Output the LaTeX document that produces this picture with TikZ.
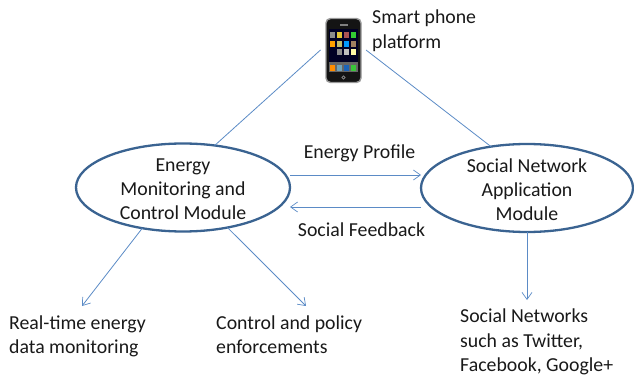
\documentclass[tikz,border=0pt]{standalone}
\usepackage{fontspec}
\setmainfont{Carlito}
\usetikzlibrary{arrows.meta,shapes.geometric}
\definecolor{ringc}{HTML}{3A6391}
\definecolor{linec}{HTML}{5B8BC6}
\tikzset{
 x=1pt,y=-1pt,
 ring/.style={draw=ringc,line width=2.3pt,ellipse,inner sep=0pt,outer sep=0pt,fill=white},
 lab/.style={font=\fontsize{19.8}{24.4}\selectfont,align=left,anchor=north west,inner sep=0pt,text=black!90},
 midlab/.style={font=\fontsize{19.8}{24}\selectfont,align=center,inner sep=0pt,text=black!90},
 conn/.style={draw=linec,line width=0.8pt},
 arr/.style={conn,-{Straight Barb[length=7pt,width=10pt,line width=0.7pt]}},
}
\begin{document}
\begin{tikzpicture}
\useasboundingbox (0,0) rectangle (634,379);
% phone
\node[draw=black!40,line width=1.4pt,fill=black!92,rounded corners=4.5pt,minimum width=35pt,minimum height=64pt,inner sep=0pt] (phone) at (343.5,50.5) {};
\fill[black!30!blue!20!black] (329,29) rectangle (358,62);
\fill[black!60] (329,62) rectangle (358,72);
\foreach \x/\y/\c in {332.7/35/black!45,339.7/35/yellow!55!brown,346.7/35/red!35!gray,353.7/35/green!60!gray,
 332.7/44/orange!75!yellow,339.7/44/yellow!45!gray,346.7/44/blue!40!cyan,353.7/44/brown!50!gray,
 339.7/52/black!45,346.7/52/black!25,353.7/52/yellow!35!white,
 332.7/68/orange!90!yellow,339.7/68/cyan!40!gray,346.7/68/cyan!40!blue,353.7/68/green!55!gray}
 \fill[\c] (\x-2.6,\y-2.6) rectangle (\x+2.6,\y+2.6);
\fill[black!50] (339.5,24.5) rectangle (347.5,25.7);
\draw[black!45,line width=0.7pt] (343.5,77.5) circle (1.7pt);
% free ends and levels
\coordinate (pl) at (320.5,50);
\coordinate (pr) at (366,50);
\coordinate (a1) at (82,306);
\coordinate (a2) at (306,306);
\coordinate (a3) at (527,300);
\coordinate (y1) at (0,175);
\coordinate (y2) at (0,207);
% rings
\node[ring,minimum width=214pt,minimum height=88pt] (em) at (183,187.5) {};
\node[ring,minimum width=212pt,minimum height=88pt] (sn) at (527,188) {};
% connectors
\draw[conn] (pl) -- (em.53.6);
\draw[conn] (pr) -- (sn.131);
\draw[arr] (em.east |- y1) -- (sn.west |- y1);
\draw[arr] (sn.west |- y2) -- (em.east |- y2);
\draw[arr] (em.225) -- (a1);
\draw[arr] (em.-42) -- (a2);
\draw[arr] (sn.south) -- (a3);
% texts
\node[midlab] (emt) at (183,189.5) {Energy\\Monitoring and\\Control Module};
\node[midlab] (snt) at (527,189.5) {Social Network\\Application\\Module};
\node[lab] (phonet) at (372,10) {Smart phone\\platform};
\node[midlab] (ep) at (359.5,153) {Energy Profile};
\node[midlab] (sf) at (361.5,230) {Social Feedback};
\node[lab] (rt) at (9,315.5) {Real-time energy\\data monitoring};
\node[lab] (cp) at (216,315.5) {Control and policy\\enforcements};
\node[lab] (sns) at (460,309) {Social Networks\\such as Twitter,\\Facebook, Google+};
\end{tikzpicture}
\end{document}
